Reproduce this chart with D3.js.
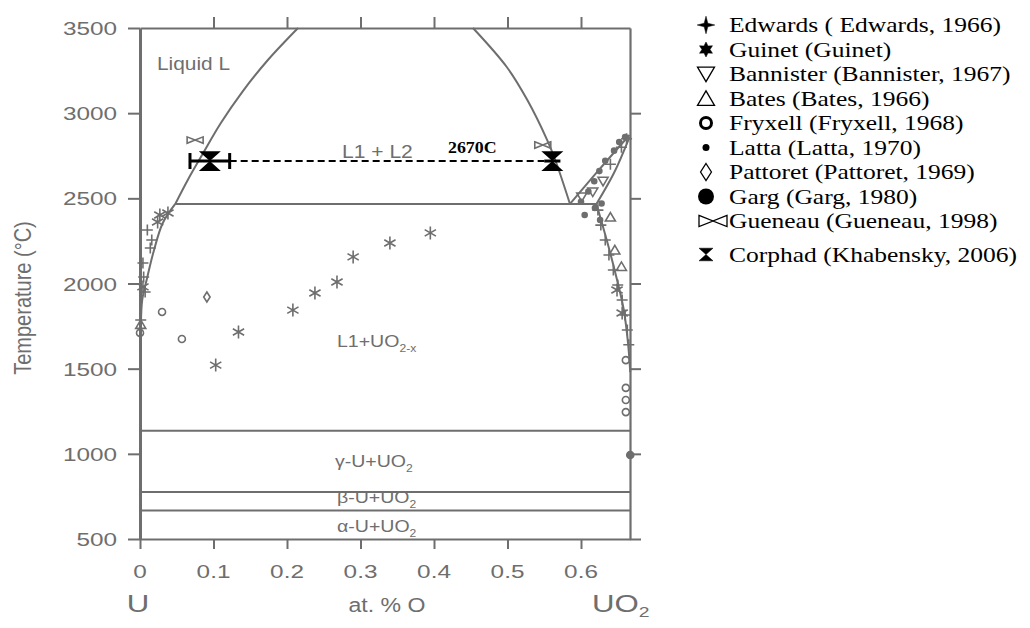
<!DOCTYPE html>
<html>
<head>
<meta charset="utf-8">
<script src="https://d3js.org/d3.v7.min.js"></script>
<style>
  body { margin: 0; background: #fff; }
</style>
</head>
<body>
<div id="chart"></div>
<script>
// ---- data (x = atomic fraction O, y = temperature °C) ----
const xTicks = [0, 0.1, 0.2, 0.3, 0.4, 0.5, 0.6];
const yTicks = [500, 1000, 1500, 2000, 2500, 3000, 3500];

// phase boundaries
const liquidusL1  = [[0.215,3500],[0.174,3312],[0.139,3124],[0.110,2942],[0.086,2766],[0.065,2608],[0.048,2467]];
const liquidusL1b = [[0.048,2467],[0.031,2355],[0.018,2179],[0.010,2038],[0.003,1903],[0.001,1727],[0,1600]];
const liquidusL2  = [[0.453,3500],[0.499,3271],[0.527,3077],[0.554,2842],[0.565,2725],[0.585,2467]];
const lensUpper   = [[0.585,2467],[0.625,2670],[0.666,2872]];
const lensLower   = [[0.621,2467],[0.645,2650],[0.666,2860]];
const solidusUO2  = [[0.621,2467],[0.635,2255],[0.648,2040],[0.658,1850],[0.664,1650],[0.667,1480]];
const monotectic  = [[0.048,2467],[0.621,2467]];
const isotherms   = [1135, 776, 668];

// experimental points
const edwards   = [[0.623,2431],[0.627,2343],[0.633,2255],[0.638,2167],[0.644,2079],[0.650,1991],
                   [0.656,1903],[0.660,1815],[0.663,1727],[0.665,1640],[0.640,2700],[0.655,2800],
                   [0.662,2850],[0.010,2314],[0.016,2255],[0.014,2208],[0.004,2120],[0.005,2038],
                   [0.007,1950],[0.001,1786]];
const guinet    = [[0.103,1521],[0.134,1715],[0.208,1844],[0.238,1944],[0.268,2009],[0.290,2156],
                   [0.340,2238],[0.395,2297],[0.027,2402],[0.038,2414],[0.024,2361],[0.004,1980],
                   [0.649,1962],[0.656,1827]];
const bannister = [[0.601,2508],[0.616,2537],[0.630,2600]];
const bates     = [[0.640,2390],[0.646,2197],[0.655,2100],[0.001,1760]];
const fryxell   = [[0.030,1833],[0.057,1674],[0.661,1550],[0.661,1387],[0.661,1316],[0.661,1245],[0,1710]];
const latta     = [[0.600,2480],[0.610,2540],[0.618,2600],[0.625,2660],[0.633,2720],[0.645,2780],
                   [0.652,2830],[0.660,2860],[0.605,2402],[0.619,2443],[0.626,2373],[0.628,2470]];
const pattoret  = [[0.091,1921]];
const garg      = [[0.667,993]];
const gueneau   = [[0.075,2842],[0.548,2813]];
const corphad   = [[0.095,2719],[0.561,2719]];
const corphadErr = [0.027, 0.011];

const legendNames = ["Edwards ( Edwards, 1966)", "Guinet (Guinet)", "Bannister (Bannister, 1967)",
  "Bates (Bates, 1966)", "Fryxell (Fryxell, 1968)", "Latta (Latta, 1970)", "Pattoret (Pattoret, 1969)",
  "Garg (Garg, 1980)", "Gueneau (Gueneau, 1998)", "Corphad (Khabensky, 2006)"];
const legendKinds = ["star4","star6","triDown","triUp","ring","dot","diamond","disc","bowtie","hourglass"];

// ---- drawing ----
const grey = "#6e6e6e";
const sans = "'Liberation Sans', Arial, sans-serif";
const serif = "'Liberation Serif', 'Times New Roman', serif";

const svg = d3.select("#chart").append("svg")
    .attr("width", 1030).attr("height", 628);

const x = d3.scaleLinear().domain([0, 2/3]).range([140, 630]);
const y = d3.scaleLinear().domain([500, 3500]).range([539, 28]);

// text helper (the original picture is stretched horizontally)
function addText(px, py, str, o) {
  o = o || {};
  const t = svg.append("text")
      .attr("transform", `translate(${px},${py}) scale(${o.sx || 1.25},1)` + (o.rot ? ` rotate(${o.rot})` : ""))
      .attr("font-family", o.family || sans)
      .attr("font-size", o.size || 18)
      .attr("font-weight", o.weight || "normal")
      .attr("fill", o.color || grey)
      .attr("text-anchor", o.anchor || "start")
      .text(str);
  if (o.sub) {
    t.append("tspan").attr("font-size", (o.size || 18) * 0.62).attr("dy", 5).text(o.sub);
  }
  return t;
}

// axes (lines and ticks only)
const axes = svg.append("g");
axes.append("g").attr("transform", "translate(140,0)")
  .call(d3.axisLeft(y).tickValues(yTicks).tickSize(12).tickSizeOuter(0).tickFormat(""));
axes.append("g").attr("transform", "translate(630,0)")
  .call(d3.axisRight(y).tickValues(yTicks.slice(0, -1)).tickSize(11).tickSizeOuter(0).tickFormat(""));
axes.append("g").attr("transform", "translate(0,28)")
  .call(d3.axisTop(x).tickValues(xTicks.slice(1)).tickSize(11).tickSizeOuter(0).tickFormat(""));
axes.append("g").attr("transform", "translate(0,539)")
  .call(d3.axisBottom(x).tickValues(xTicks).tickSize(10).tickSizeOuter(0).tickFormat(""));
axes.selectAll("line").attr("stroke", grey).attr("stroke-width", 2);
axes.selectAll("path.domain").attr("stroke", grey).attr("stroke-width", 2.2);
axes.select("g path.domain").attr("stroke-width", 3);

// tick labels
yTicks.forEach(v => addText(117, y(v) + 7, String(v), {size: 19, sx: 1.28, anchor: "end"}));
xTicks.forEach(v => addText(x(v), 578, v === 0 ? "0" : d3.format(".1f")(v), {size: 19, sx: 1.28, anchor: "middle"}));

addText(31, 298, "Temperature (°C)", {size: 20, sx: 1.2, rot: -90, anchor: "middle"});
addText(138, 612, "U", {size: 24, sx: 1.3, anchor: "middle"});
addText(387, 612, "at. % O", {size: 21, sx: 1.1, anchor: "middle"});
addText(592, 612, "UO", {size: 24, sx: 1.3, sub: "2"});

// phase boundaries
const line = d3.line().x(d => x(d[0])).y(d => y(d[1])).curve(d3.curveCatmullRom);
const bounds = svg.append("g").attr("fill", "none").attr("stroke", grey).attr("stroke-width", 2);
[liquidusL1, liquidusL1b, liquidusL2, lensUpper, lensLower, solidusUO2, monotectic].forEach(b =>
  bounds.append("path").attr("d", line(b)));
isotherms.forEach(t => bounds.append("path").attr("d", line([[0, t], [2/3, t]])));

// region labels
addText(157, 70, "Liquid L", {size: 18, sx: 1.16});
addText(342, 158, "L1 + L2", {size: 18, sx: 1.17});
addText(337, 347, "L1+UO", {size: 17, sx: 1.15, sub: "2-x"});
addText(335, 467, "γ-U+UO", {size: 17, sx: 1.15, sub: "2"});
addText(337, 503, "β-U+UO", {size: 17, sx: 1.15, sub: "2"});
addText(337, 532, "α-U+UO", {size: 17, sx: 1.15, sub: "2"});
addText(448, 153, "2670C", {size: 17, sx: 1.05, family: serif, weight: "bold", color: "#000"});

// marker shapes
function starPath(n, ro, ri) {
  const pts = [];
  for (let i = 0; i < 2 * n; i++) {
    const a = -Math.PI / 2 + i * Math.PI / n, r = i % 2 ? ri : ro;
    pts.push([r * Math.cos(a), r * Math.sin(a)]);
  }
  return "M" + pts.map(p => p.join(",")).join("L") + "Z";
}
function shape(kind, s) {
  switch (kind) {
    case "star4": return starPath(4, s * 0.55, s * 0.16);
    case "star6": return starPath(6, s * 0.5, s * 0.27);
    case "triDown": return `M${-s*0.5},${-s*0.4}L${s*0.5},${-s*0.4}L0,${s*0.45}Z`;
    case "triUp": return `M${-s*0.5},${s*0.4}L${s*0.5},${s*0.4}L0,${-s*0.45}Z`;
    case "diamond": return `M0,${-s*0.5}L${s*0.32},0L0,${s*0.5}L${-s*0.32},0Z`;
    case "bowtie": return `M${-s},${-s*0.4}L0,0L${-s},${s*0.4}ZM${s},${-s*0.4}L0,0L${s},${s*0.4}Z`;
    case "hourglass": return `M${-s*0.5},${-s*0.45}L${s*0.5},${-s*0.45}L0,0ZM${-s*0.5},${s*0.45}L${s*0.5},${s*0.45}L0,0Z`;
    case "plus": return `M${-s*0.5},0L${s*0.5},0M0,${-s*0.5}L0,${s*0.5}`;
    case "asterisk": {
      let p = "";
      for (let i = 0; i < 3; i++) {
        const a = Math.PI / 2 + i * Math.PI / 3, dx = Math.cos(a) * s * 0.5, dy = Math.sin(a) * s * 0.5;
        p += `M${-dx},${-dy}L${dx},${dy}`;
      }
      return p;
    }
  }
  return "";
}

// experimental points
const pts = svg.append("g");
function plotSet(data, kind, s, fill) {
  pts.append("g").selectAll("path").data(data).join("path")
    .attr("transform", d => `translate(${x(d[0])},${y(d[1])})`)
    .attr("d", kind === "circle" ? d3.symbol(d3.symbolCircle, s * s * 0.785)() : shape(kind, s))
    .attr("fill", fill ? grey : "none")
    .attr("stroke", grey)
    .attr("stroke-width", 1.6);
}
plotSet(edwards, "plus", 11, false);
plotSet(guinet, "asterisk", 13, false);
plotSet(bannister, "triDown", 10, false);
plotSet(bates, "triUp", 10, false);
plotSet(fryxell, "circle", 7, false);
plotSet(latta, "circle", 5, true);
plotSet(pattoret, "diamond", 10, false);
plotSet(garg, "circle", 7, true);
plotSet(gueneau, "bowtie", 8, false);

// Corphad with error bars and dashed tie line
const corp = svg.append("g");
corp.append("line")
  .attr("x1", x(corphad[0][0] + corphadErr[0])).attr("x2", x(corphad[1][0] - corphadErr[1]))
  .attr("y1", y(corphad[0][1])).attr("y2", y(corphad[1][1]))
  .attr("stroke", "#000").attr("stroke-width", 2).attr("stroke-dasharray", "7,4");
corphad.forEach((d, i) => {
  const cy = y(d[1]), x0 = x(d[0] - corphadErr[i]), x1 = x(d[0] + corphadErr[i]);
  corp.append("line").attr("x1", x0).attr("x2", x1).attr("y1", cy).attr("y2", cy)
    .attr("stroke", "#000").attr("stroke-width", 3);
  if (i === 0) {
    [x0, x1].forEach(cx => corp.append("line").attr("x1", cx).attr("x2", cx)
      .attr("y1", cy - 8).attr("y2", cy + 8).attr("stroke", "#000").attr("stroke-width", 3));
  }
  corp.append("path").attr("transform", `translate(${x(d[0])},${cy})`)
    .attr("d", shape("hourglass", 22)).attr("fill", "#000");
});

// legend
const leg = svg.append("g");
legendNames.forEach((name, i) => {
  const cy = 25 + i * 24.5 + (i === 9 ? 9 : 0);
  const kind = legendKinds[i];
  const sx = kind === "bowtie" ? 713 : 706;
  const g = leg.append("g").attr("transform", `translate(${sx},${cy})`);
  if (kind === "ring") {
    g.append("circle").attr("r", 5.5).attr("fill", "none").attr("stroke", "#000").attr("stroke-width", 3);
  } else if (kind === "dot") {
    g.append("circle").attr("r", 3.5).attr("fill", "#000");
  } else if (kind === "disc") {
    g.append("circle").attr("r", 8).attr("fill", "#000");
  } else {
    const size = {star4: 16, star6: 15, triDown: 17, triUp: 17, diamond: 17, bowtie: 14, hourglass: 14}[kind];
    const filled = ["star4", "star6", "hourglass"].includes(kind);
    g.append("path").attr("d", shape(kind, size))
      .attr("fill", filled ? "#000" : "none").attr("stroke", "#000").attr("stroke-width", filled ? 0.5 : 1.3);
  }
  addText(729, cy + 7, name, {size: 22, sx: 1.16, family: serif, color: "#000"});
});
</script>
</body>
</html>
